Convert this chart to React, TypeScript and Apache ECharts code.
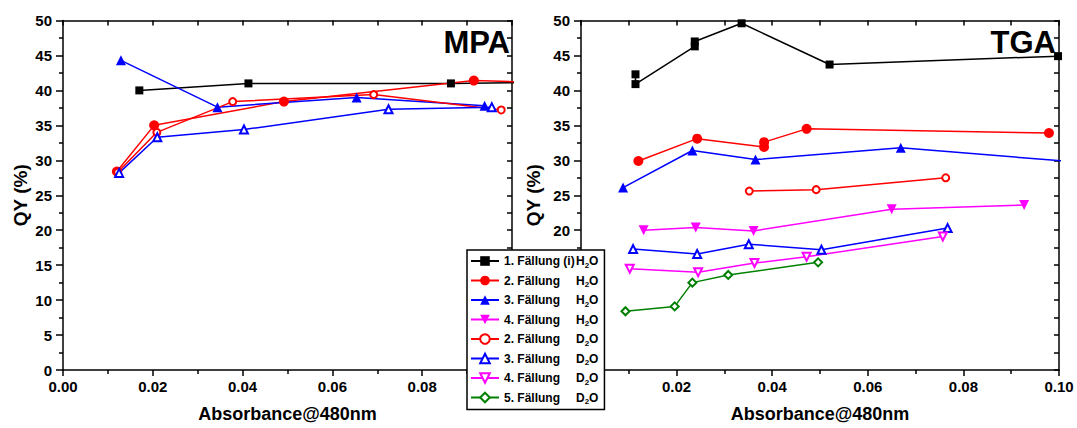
import { useEffect, useRef } from "react";
import * as echarts from "echarts";

const FONT = "'Liberation Sans', Arial, Helvetica, sans-serif";

// Legend entries: precipitation label and solvent
const seriesLabels = [
  "1. Fällung (i)",
  "2. Fällung",
  "3. Fällung",
  "4. Fällung",
  "2. Fällung",
  "3. Fällung",
  "4. Fällung",
  "5. Fällung",
];
const seriesSolvents = ["H", "H", "H", "H", "D", "D", "D", "D"];
const seriesNames = seriesLabels.map((l, i) => `${l} ${seriesSolvents[i]}2O`);
const seriesColors = ["#000000", "#ff0000", "#0000ff", "#ff00ff", "#ff0000", "#0000ff", "#ff00ff", "#008000"];
const seriesSymbols = ["rect", "circle", "triangle", "triangle", "circle", "triangle", "triangle", "diamond"];
const seriesRotations = [0, 0, 0, 180, 0, 0, 180, 0];
const seriesHollow = [false, false, false, false, true, true, true, true];
const seriesSizes = [8, 10, 10, 10, 7, 8, 8, 8];

// MPA: [absorbance @ 480 nm, QY %]
const mpa1H2O = [[0.017, 40.0], [0.0413, 41.0], [0.0864, 41.0], [0.115, 41.2]];
const mpa2H2O = [[0.012, 28.4], [0.0203, 35.0], [0.0492, 38.4], [0.0915, 41.4], [0.115, 41.0]];
const mpa3H2O = [[0.0129, 44.3], [0.0344, 37.6], [0.0654, 39.0], [0.0939, 37.8]];
const mpa2D2O = [[0.0122, 28.3], [0.0209, 34.0], [0.0378, 38.4], [0.0692, 39.4], [0.0976, 37.2]];
const mpa3D2O = [[0.0125, 28.2], [0.021, 33.3], [0.0403, 34.4], [0.0725, 37.3], [0.0955, 37.6]];

// TGA: [absorbance @ 480 nm, QY %]
const tga1H2O = [[0.0114, 42.3], [0.0114, 40.9], [0.0238, 46.3], [0.0238, 47.0], [0.0336, 49.6], [0.052, 43.7], [0.0998, 44.9]];
const tga2H2O = [[0.012, 29.9], [0.0243, 33.1], [0.0383, 31.9], [0.0383, 32.6], [0.0472, 34.5], [0.0979, 33.9]];
const tga3H2O = [[0.0088, 26.1], [0.0233, 31.4], [0.0365, 30.1], [0.0669, 31.8], [0.115, 29.1]];
const tga4H2O = [[0.0131, 20.0], [0.024, 20.4], [0.0361, 19.9], [0.065, 23.0], [0.0927, 23.6]];
const tga2D2O = [[0.0352, 25.6], [0.0492, 25.8], [0.0763, 27.5]];
const tga3D2O = [[0.0109, 17.3], [0.0243, 16.6], [0.0351, 18.0], [0.0503, 17.2], [0.0767, 20.3]];
const tga4D2O = [[0.0102, 14.5], [0.0245, 14.0], [0.0363, 15.3], [0.0472, 16.2], [0.0757, 19.1]];
const tga5D2O = [[0.0093, 8.4], [0.0196, 9.1], [0.0233, 12.5], [0.0308, 13.6], [0.0496, 15.4]];

const mpaSeries: [number, number[][]][] = [
  [0, mpa1H2O],
  [1, mpa2H2O],
  [2, mpa3H2O],
  [4, mpa2D2O],
  [5, mpa3D2O],
];
const tgaSeries: [number, number[][]][] = [
  [0, tga1H2O],
  [1, tga2H2O],
  [2, tga3H2O],
  [3, tga4H2O],
  [4, tga2D2O],
  [5, tga3D2O],
  [6, tga4D2O],
  [7, tga5D2O],
];

const X_MIN = 0;
const X_MAX = 0.1;
const Y_MIN = 0;
const Y_MAX = 50;

function makeSeries(idx: number, data: number[][], axis: number) {
  const c = seriesColors[idx];
  const hollow = seriesHollow[idx];
  return {
    type: "line",
    name: seriesNames[idx],
    xAxisIndex: axis,
    yAxisIndex: axis,
    data,
    clip: true,
    symbol: seriesSymbols[idx],
    symbolSize: seriesSizes[idx],
    symbolRotate: seriesRotations[idx],
    showSymbol: true,
    showAllSymbol: true,
    lineStyle: { color: c, width: 1.5 },
    itemStyle: {
      color: hollow ? "#ffffff" : c,
      borderColor: c,
      borderWidth: hollow ? 2 : 0,
    },
    emphasis: { disabled: true },
  };
}

const axisLine = { show: true, onZero: false, lineStyle: { color: "#000", width: 1.5 } };
const labelStyle = { fontFamily: FONT, fontWeight: "bold" as const, fontSize: 15, color: "#000" };

function bottomAxis(grid: number) {
  return {
    type: "value",
    gridIndex: grid,
    position: "bottom",
    min: X_MIN,
    max: X_MAX,
    interval: 0.02,
    axisLine,
    axisTick: { show: true, inside: false, length: 6, lineStyle: { width: 1.5, color: "#000" } },
    minorTick: { show: true, splitNumber: 2, length: 4, lineStyle: { width: 1.5, color: "#000" } },
    splitLine: { show: false },
    axisLabel: { ...labelStyle, margin: 9, formatter: (v: number) => v.toFixed(2) },
    name: "Absorbance@480nm",
    nameLocation: "middle",
    nameGap: 35,
    nameTextStyle: { fontFamily: FONT, fontWeight: "bold", fontSize: 18, color: "#000" },
  };
}

function topAxis(grid: number) {
  return {
    type: "value",
    gridIndex: grid,
    position: "top",
    min: X_MIN,
    max: X_MAX,
    interval: 0.01,
    axisLine,
    axisTick: { show: true, inside: true, length: 5, lineStyle: { width: 1.5, color: "#000" } },
    splitLine: { show: false },
    axisLabel: { show: false },
  };
}

function leftAxis(grid: number, nameGap: number) {
  return {
    type: "value",
    gridIndex: grid,
    position: "left",
    min: Y_MIN,
    max: Y_MAX,
    interval: 5,
    axisLine,
    axisTick: { show: true, inside: false, length: 7, lineStyle: { width: 1.5, color: "#000" } },
    minorTick: { show: true, splitNumber: 2, length: 4, lineStyle: { width: 1.5, color: "#000" } },
    splitLine: { show: false },
    axisLabel: { ...labelStyle, margin: 11 },
    name: "QY (%)",
    nameLocation: "middle",
    nameGap,
    nameTextStyle: { fontFamily: FONT, fontWeight: "bold", fontSize: 19, color: "#000" },
  };
}

function rightAxis(grid: number) {
  return {
    type: "value",
    gridIndex: grid,
    position: "right",
    min: Y_MIN,
    max: Y_MAX,
    interval: 2.5,
    axisLine,
    axisTick: { show: true, inside: true, length: 5, lineStyle: { width: 1.5, color: "#000" } },
    splitLine: { show: false },
    axisLabel: { show: false },
  };
}

export default function App() {
  const ref = useRef<HTMLDivElement>(null);

  useEffect(() => {
    if (!ref.current) return;
    const chart = echarts.init(ref.current, undefined, { renderer: "svg" });

    const option = {
      animation: false,
      backgroundColor: "#ffffff",
      grid: [
        { left: 63, top: 20.5, width: 449, height: 352 },
        { left: 581, top: 20.5, width: 478, height: 352 },
      ],
      xAxis: [bottomAxis(0), topAxis(0), bottomAxis(1), topAxis(1)],
      yAxis: [leftAxis(0, 33), rightAxis(0), leftAxis(1, 38), rightAxis(1)],
      legend: {
        data: seriesNames,
        orient: "vertical",
        left: 467,
        top: 250,
        height: 176,
        itemWidth: 28,
        itemHeight: 12,
        itemGap: 3.5,
        padding: [3, 6, 4, 3],
        backgroundColor: "#ffffff",
        borderColor: "#000000",
        borderWidth: 1.5,
        borderRadius: 0,
        selectedMode: false,
        z: 10,
        textStyle: {
          fontFamily: FONT,
          fontWeight: "bold",
          fontSize: 12,
          lineHeight: 12,
          color: "#000",
          rich: {
            a: { fontFamily: FONT, fontWeight: "bold", fontSize: 12, width: 72, lineHeight: 12 },
            h: { fontFamily: FONT, fontWeight: "bold", fontSize: 12, lineHeight: 12 },
            s: { fontFamily: FONT, fontWeight: "bold", fontSize: 8, lineHeight: 4, padding: [8, 0, 0, 0] },
          },
        },
        formatter: (name: string) => {
          const i = seriesNames.indexOf(name);
          return `{a|${seriesLabels[i]}}{h|${seriesSolvents[i]}}{s|2}{h|O}`;
        },
      },
      graphic: [
        {
          type: "text",
          right: 1077 - 510,
          top: 27,
          style: { text: "MPA", fontFamily: FONT, fontWeight: "bold", fontSize: 31, fill: "#000" },
          z: 5,
        },
        {
          type: "text",
          right: 1077 - 1056,
          top: 27,
          style: { text: "TGA", fontFamily: FONT, fontWeight: "bold", fontSize: 31, fill: "#000" },
          z: 5,
        },
      ],
      series: [
        ...mpaSeries.map(([i, d]) => makeSeries(i, d, 0)),
        ...tgaSeries.map(([i, d]) => makeSeries(i, d, 2)),
      ],
    };

    chart.setOption(option as any);
    return () => chart.dispose();
  }, []);

  return (
    <div
      ref={ref}
      style={{ position: "fixed", left: 0, top: 0, width: 1077, height: 428, background: "#fff" }}
    />
  );
}
